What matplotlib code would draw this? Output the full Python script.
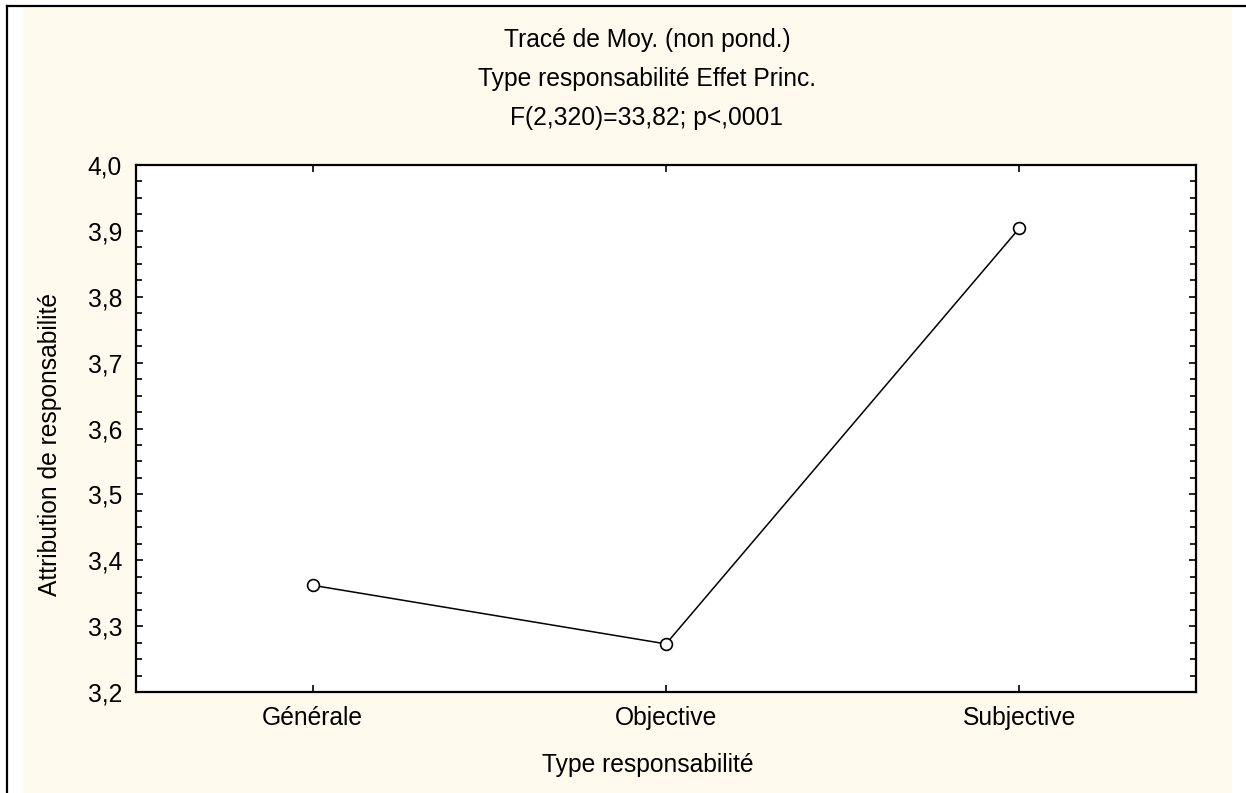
import matplotlib.pyplot as plt
from matplotlib.patches import Rectangle
from matplotlib.lines import Line2D
from matplotlib.ticker import MultipleLocator, FuncFormatter

# Données
categories = ['Générale', 'Objective', 'Subjective']
moyennes = [3.362, 3.273, 3.904]

titre = ['Tracé de Moy. (non pond.)',
         'Type responsabilité Effet Princ.',
         'F(2,320)=33,82; p<,0001']

plt.rcParams['font.family'] = ['Liberation Sans', 'DejaVu Sans']
fs = 17.7

W, H = 1246, 793
fig = plt.figure(figsize=(W / 100, H / 100), dpi=100, facecolor='white')

# Fond beige et bordure
fig.patches.append(Rectangle((23 / W, 0), (1232 - 23) / W, 785 / H,
                             transform=fig.transFigure, facecolor='#fff9ee',
                             edgecolor='none', zorder=-5))
fig.lines.append(Line2D([7 / W, 7 / W], [0, 787 / H], transform=fig.transFigure,
                        color='black', linewidth=1.6, zorder=-4))
fig.lines.append(Line2D([7 / W, 1], [787 / H, 787 / H], transform=fig.transFigure,
                        color='black', linewidth=1.6, zorder=-4))

ax = fig.add_axes([136 / W, (H - 692) / H, (1196 - 136) / W, (692 - 165) / H])
ax.set_zorder(2)
ax.set_facecolor('white')

x = range(len(categories))
ax.plot(x, moyennes, color='black', linewidth=1.1, marker='o', markersize=8.5,
        markerfacecolor='white', markeredgecolor='black', markeredgewidth=1.2,
        zorder=3)

ax.set_xlim(-0.5, 2.5)
ax.set_ylim(3.2, 4.0)
ax.set_xticks(list(x))
ax.set_xticklabels(categories)
ax.yaxis.set_major_locator(MultipleLocator(0.1))
ax.yaxis.set_minor_locator(MultipleLocator(0.025))
ax.yaxis.set_major_formatter(FuncFormatter(lambda v, p: f'{v:.1f}'.replace('.', ',')))

ax.tick_params(axis='both', which='both', direction='in', top=True, right=True,
               labelsize=fs, width=1.2)
ax.tick_params(axis='y', which='major', length=5, pad=10)
ax.tick_params(axis='y', which='minor', length=4)
ax.tick_params(axis='x', which='major', length=5, pad=10)
for s in ax.spines.values():
    s.set_linewidth(1.6)

# Titres des axes
fig.text(648 / W, 1 - 765 / H, 'Type responsabilité', ha='center', va='center', fontsize=fs)
fig.text(50 / W, 1 - 445 / H, 'Attribution de responsabilité', rotation=90,
         ha='center', va='center', fontsize=fs)

for i, t in enumerate(titre):
    fig.text(647 / W, 1 - (40 + 39 * i) / H, t, ha='center', va='center', fontsize=fs)

fig.savefig('out.png', dpi=100, facecolor='white')
